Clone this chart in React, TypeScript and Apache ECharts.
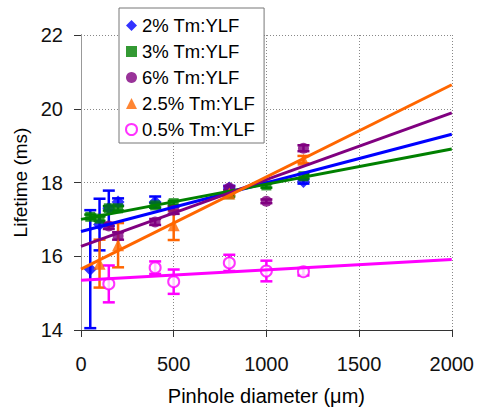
import React, { useEffect, useRef } from "react";
import * as echarts from "echarts";

const FONT = "'Liberation Sans', Arial, sans-serif";

const seriesNames = ["2% Tm:YLF", "3% Tm:YLF", "6% Tm:YLF", "2.5% Tm:YLF", "0.5% Tm:YLF"];
const seriesColors = ["#0000FF", "#008000", "#800080", "#FF6600", "#FF00FF"];
const seriesSymbols = ["diamond", "rect", "circle", "triangle", "emptyCircle"];
const seriesSizes = [13, 10, 11, 12, 11];

const blueX = [50, 100, 150, 200, 400, 800, 1200];
const blueY = [15.65, 16.86, 17.3, 17.47, 17.47, 17.85, 18.03];
const blueErr = [1.6, 0.7, 0.48, 0.1, 0.15, 0.06, 0.06];

const greenX = [50, 100, 150, 200, 400, 500, 800, 1000, 1200];
const greenY = [17.07, 17.02, 17.3, 17.3, 17.38, 17.44, 17.68, 17.92, 18.17];
const greenErr = [0.06, 0.06, 0.06, 0.06, 0.06, 0.06, 0.06, 0.06, 0.06];

const purpleX = [150, 200, 400, 500, 800, 1000, 1200];
const purpleY = [16.82, 16.55, 16.93, 17.25, 17.85, 17.49, 18.93];
const purpleErr = [0.08, 0.1, 0.08, 0.1, 0.05, 0.05, 0.08];

const orangeX = [100, 200, 500, 800, 1200];
const orangeY = [15.8, 16.3, 16.84, 17.7, 18.62];
const orangeErr = [0.65, 0.6, 0.4, 0.05, 0.1];

const magentaX = [150, 400, 500, 800, 1000, 1200];
const magentaY = [15.25, 15.69, 15.31, 15.82, 15.6, 15.58];
const magentaErr = [0.5, 0.17, 0.33, 0.22, 0.28, 0.1];

const trendX = [0, 2000];
const blueFit = [16.67, 19.31];
const greenFit = [17.0, 18.91];
const purpleFit = [16.27, 19.89];
const orangeFit = [15.65, 20.65];
const magentaFit = [15.35, 15.91];

const xTicks = [0, 500, 1000, 1500, 2000];
const yTicks = [14, 16, 18, 20, 22];

const allX = [blueX, greenX, purpleX, orangeX, magentaX];
const allY = [blueY, greenY, purpleY, orangeY, magentaY];
const allErr = [blueErr, greenErr, purpleErr, orangeErr, magentaErr];
const allFit = [blueFit, greenFit, purpleFit, orangeFit, magentaFit];

export default function App() {
  const ref = useRef<HTMLDivElement>(null);
  useEffect(() => {
    if (!ref.current) return;
    const chart = echarts.init(ref.current, null, { renderer: "svg" });
    const series: any[] = [];
    seriesNames.forEach((name, i) => {
      const color = seriesColors[i];
      series.push({
        name: name + "_err",
        type: "custom",
        z: 1,
        silent: true,
        encode: { x: 0, y: [1, 2] },
        data: allX[i].map((x, k) => [x, allY[i][k] - allErr[i][k], allY[i][k] + allErr[i][k]]),
        renderItem: (params: any, api: any) => {
          const x = api.value(0);
          const p1 = api.coord([x, api.value(2)]);
          const p2 = api.coord([x, api.value(1)]);
          const hw = 6;
          const st = { stroke: color, lineWidth: 2.5 };
          return {
            type: "group",
            children: [
              { type: "line", shape: { x1: p1[0], y1: p1[1], x2: p2[0], y2: p2[1] }, style: st },
              { type: "line", shape: { x1: p1[0] - hw, y1: p1[1], x2: p1[0] + hw, y2: p1[1] }, style: st },
              { type: "line", shape: { x1: p2[0] - hw, y1: p2[1], x2: p2[0] + hw, y2: p2[1] }, style: st },
            ],
          };
        },
      });
      const empty = seriesSymbols[i] === "emptyCircle";
      series.push({
        name,
        type: "scatter",
        z: 2,
        symbol: seriesSymbols[i],
        symbolSize: seriesSizes[i],
        itemStyle: empty ? { color, borderColor: color, borderWidth: 1.5 } : { color },
        data: allX[i].map((x, k) => [x, allY[i][k]]),
      });
      series.push({
        name: name + "_fit",
        type: "line",
        z: 3,
        silent: true,
        showSymbol: false,
        symbol: "none",
        lineStyle: { color, width: 3 },
        data: trendX.map((x, k) => [x, allFit[i][k]]),
      });
    });

    chart.setOption({
      animation: false,
      backgroundColor: "#FFFFFF",
      textStyle: { fontFamily: FONT },
      grid: { left: 81, top: 35, right: 24, bottom: 76, containLabel: false },
      legend: {
        data: seriesNames,
        orient: "vertical",
        left: 119,
        top: 8,
        padding: [8, 9, 4, 6],
        itemGap: 7,
        itemWidth: 11,
        itemHeight: 11,
        backgroundColor: "#FFFFFF",
        borderColor: "#777777",
        borderWidth: 1,
        textStyle: { fontSize: 18.5, color: "#000", fontFamily: FONT },
      },
      xAxis: {
        type: "value",
        min: xTicks[0],
        max: xTicks[xTicks.length - 1],
        interval: 500,
        name: "Pinhole diameter (\u03bcm)",
        nameLocation: "middle",
        nameGap: 56,
        nameTextStyle: { fontSize: 20, color: "#000", fontFamily: FONT },
        axisLine: { show: true, onZero: false, lineStyle: { color: "#333", width: 1 } },
        axisTick: { show: true, length: 7, lineStyle: { color: "#333" } },
        axisLabel: { fontSize: 20, color: "#111", margin: 24, fontFamily: FONT, formatter: (v: number) => String(v) },
        splitLine: { show: true, lineStyle: { color: "#888", type: [1, 2], width: 1 } },
      },
      yAxis: [
        {
          type: "value",
          min: yTicks[0],
          max: yTicks[yTicks.length - 1],
          interval: 2,
          name: "Lifetime (ms)",
          nameLocation: "middle",
          nameGap: 41,
          nameTextStyle: { fontSize: 19, color: "#000", fontFamily: FONT },
          axisLine: { show: true, onZero: false, lineStyle: { color: "#333", width: 1 } },
          axisTick: { show: true, length: 7, lineStyle: { color: "#333" } },
          axisLabel: { fontSize: 20, color: "#111", margin: 18, fontFamily: FONT, formatter: (v: number) => String(v) },
          splitLine: { show: true, lineStyle: { color: "#888", type: [1, 2], width: 1 } },
        },
        {
          type: "value",
          position: "right",
          min: yTicks[0],
          max: yTicks[yTicks.length - 1],
          interval: 2,
          axisLine: { show: true, lineStyle: { color: "#999", width: 1 } },
          axisTick: { show: false },
          axisLabel: { show: false },
          splitLine: { show: false },
        },
      ],
      series,
    });
    return () => chart.dispose();
  }, []);
  return (
    <div
      ref={ref}
      style={{ position: "fixed", left: 0, top: 0, width: 477, height: 411, background: "#fff" }}
    />
  );
}
